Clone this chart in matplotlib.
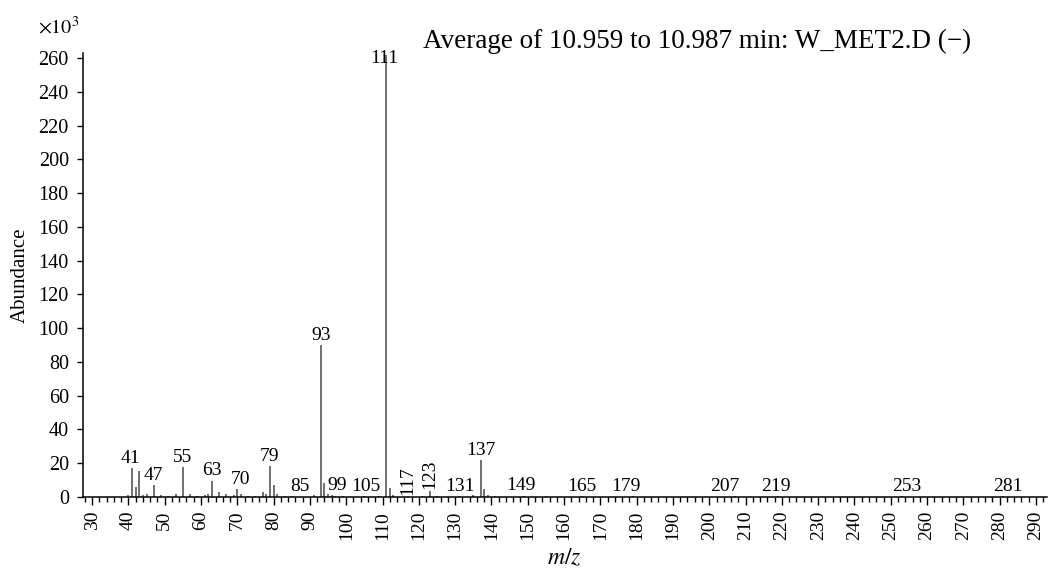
import matplotlib.pyplot as plt
from matplotlib.ticker import MultipleLocator

plt.rcParams["font.family"] = ["Liberation Serif", "DejaVu Serif"]
plt.rcParams["mathtext.fontset"] = "stix"

# spectrum: m/z and abundance (x10^3)
mz = [40, 41, 42, 43, 44, 45, 47, 49, 51, 53, 55, 57, 59, 61, 62, 63, 65, 67,
      69, 70, 71, 73, 75, 77, 78, 79, 80, 81, 83, 85, 91, 93, 94, 95, 96, 97,
      99, 105, 109, 111, 112, 113, 117, 121, 123, 125, 131, 135, 137, 138,
      139, 141, 149, 155, 165, 179, 207, 219, 253, 281]
abundance = [1.0, 17.0, 6.1, 15.6, 1.2, 1.8, 7.1, 1.0, 0.8, 2.0, 17.6, 1.5,
             0.8, 1.2, 1.5, 9.7, 3.0, 1.5, 1.0, 4.6, 2.0, 0.8, 0.8, 3.0, 1.5,
             18.4, 7.1, 1.5, 0.8, 0.6, 1.0, 90.0, 8.1, 1.7, 1.0, 0.8, 0.7,
             0.6, 0.8, 262.0, 5.1, 1.0, 0.6, 0.8, 3.8, 0.8, 0.6, 1.0, 21.9,
             4.5, 1.0, 0.6, 0.7, 0.5, 0.5, 0.5, 0.4, 0.4, 0.4, 0.4]

# annotated peaks (117 and 123 are written vertically)
labeled = [41, 47, 55, 63, 70, 79, 85, 93, 99, 105, 111, 117, 123, 131, 137,
           149, 165, 179, 207, 219, 253, 281]
vertical = [117, 123]

fig = plt.figure(figsize=(10.49, 5.73), dpi=100)
ax = fig.add_axes([0.0788, 0.1326, 0.9192, 0.7749])

ax.vlines(mz, 0, abundance, colors="#707070", linewidth=1.4)

# sideways shift (points) so crowded labels don't collide
nudge = {41: -1, 70: 2, 85: 6, 99: -4, 105: 1, 111: -1, 131: 1,
         149: -2, 179: -5, 207: -7, 219: -2, 253: 4, 281: 3}

peak = dict(zip(mz, abundance))
for m in labeled:
    v = peak.get(m, 0.0)
    # keep the base peak label inside the frame
    y = min(v, 254)
    rot = 90 if m in vertical else 0
    ax.annotate(str(m), xy=(m, y), xytext=(nudge.get(m, 0), 1),
                textcoords="offset points", ha="center", va="bottom",
                rotation=rot, fontsize=14)

ax.set_xlim(27.4, 293)
ax.set_ylim(0, 263)
ax.xaxis.set_major_locator(MultipleLocator(10))
ax.xaxis.set_minor_locator(MultipleLocator(2))
ax.yaxis.set_major_locator(MultipleLocator(20))

for side in ["top", "right"]:
    ax.spines[side].set_visible(False)
for side in ["left", "bottom"]:
    ax.spines[side].set_linewidth(1.1)

ax.tick_params(axis="x", which="major", direction="out", length=6, width=1,
               labelsize=14, labelrotation=90, pad=4)
ax.tick_params(axis="x", which="minor", direction="out", length=3.5, width=1)
ax.tick_params(axis="y", direction="out", length=4, width=1, labelsize=14.5,
               pad=6)

ax.set_xlabel("$m/z$", fontsize=17, labelpad=5)
ax.set_ylabel("Abundance", fontsize=15, labelpad=6)

fig.text(0.036, 0.951, r"$\times10^3$", fontsize=14.5, va="center")
fig.text(0.403, 0.927, "Average of 10.959 to 10.987 min: W_MET2.D (\u2212)",
         fontsize=19.5, va="center")

fig.savefig("out.png", dpi=100)
plt.close(fig)
